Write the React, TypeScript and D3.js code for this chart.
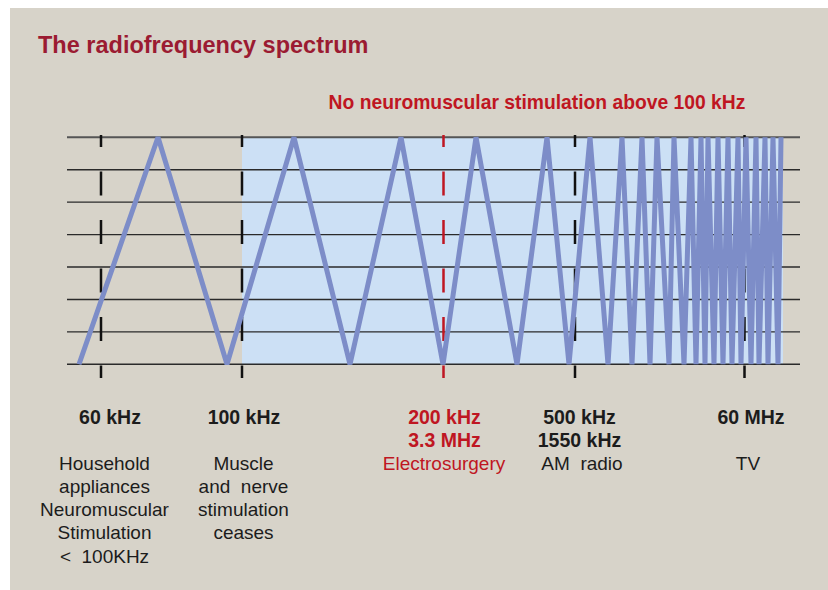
import * as d3 from "d3";

// positions along the spectrum strip (0 = left end of the grid lines)
const zigzagX = [
  12, 91, 160, 227, 283, 334, 376, 409, 450, 480, 502, 523, 541, 555, 565, 575,
  583, 590, 602, 607, 617, 624, 629, 634, 638, 641, 647, 651, 656, 661, 665,
  671, 674, 679, 684, 689, 692, 698, 701, 706, 711, 714,
];
const gridLevels = [0, 1, 2, 3, 4, 5, 6, 7];
const shadeFrom = 175;
const shadeTo = 716;

const tickPos = [34, 175, 508, 677.5];
const surgeryTick = 376.5;

const freqLabels = [
  { x: 43, lines: ["60 kHz"] },
  { x: 177, lines: ["100 kHz"] },
  { x: 377.5, lines: ["200 kHz", "3.3 MHz"], red: true },
  { x: 512.5, lines: ["500 kHz", "1550 kHz"] },
  { x: 684, lines: ["60 MHz"] },
];
const descLabels = [
  { x: 37.5, row: 0, lines: ["Household", "appliances", "Neuromuscular", "Stimulation", "<  100KHz"] },
  { x: 176.5, row: 0, lines: ["Muscle", "and  nerve", "stimulation", "ceases"] },
  { x: 377, row: 0, lines: ["Electrosurgery"], red: true },
  { x: 515, row: 0, lines: ["AM  radio"] },
  { x: 681, row: 0, lines: ["TV"] },
];

const W = 828;
const H = 590;

const x = d3.scaleLinear().domain([0, 733]).range([67, 800]);
const y = d3.scaleLinear().domain([0, 7]).range([364.3, 137.3]);

const DARK = "#1c1c1c";
const RED = "#bf1622";

export default function App() {
  const pts: [number, number][] = zigzagX.map((v, i) => [v, i % 2 === 0 ? 0 : 7]);
  const line = d3
    .line<[number, number]>()
    .x((d) => x(d[0]))
    .y((d) => y(d[1]));

  const font = "'Liberation Sans', Arial, Helvetica, sans-serif";
  const tickDash = { strokeDasharray: "24 24.5", strokeDashoffset: 12 };

  return (
    <svg
      width={W}
      height={H}
      style={{ position: "absolute", left: 0, top: 0, display: "block" }}
      fontFamily={font}
    >
      <rect x={0} y={0} width={W} height={H} fill="#ffffff" />
      <rect x={10} y={8} width={W - 10} height={H - 8} fill="#d7d3c9" />

      <text x={38} y={53} fontSize={23.5} fontWeight="bold" fill="#9b1b32">
        The radiofrequency spectrum
      </text>
      <text x={537} y={109} fontSize={19.3} fontWeight="bold" fill={RED} textAnchor="middle">
        No neuromuscular stimulation above 100 kHz
      </text>

      {/* shaded >100 kHz region */}
      <rect
        x={x(shadeFrom)}
        y={y(7)}
        width={x(shadeTo) - x(shadeFrom)}
        height={y(0) - y(7)}
        fill="#cce0f5"
      />

      {gridLevels.map((g) => (
        <line
          key={g}
          x1={x(0)}
          x2={x(733)}
          y1={y(g)}
          y2={y(g)}
          stroke={g === 7 ? "#555" : "#2a2a2a"}
          strokeWidth={g === 7 ? 2 : 1.4}
        />
      ))}

      {tickPos.map((t) => (
        <line
          key={t}
          x1={x(t)}
          x2={x(t)}
          y1={135}
          y2={378}
          stroke="#111"
          strokeWidth={2.5}
          {...tickDash}
        />
      ))}
      <line
        x1={x(surgeryTick)}
        x2={x(surgeryTick)}
        y1={135}
        y2={378}
        stroke={RED}
        strokeWidth={2.5}
        {...tickDash}
      />

      <path
        d={line(pts) ?? ""}
        fill="none"
        stroke="#7d8dc8"
        strokeWidth={5}
        strokeLinejoin="miter"
        strokeMiterlimit={2}
      />

      {freqLabels.map((f) =>
        f.lines.map((s, i) => (
          <text
            key={f.x + s}
            x={x(f.x)}
            y={423.5 + i * 23}
            fontSize={19.5}
            fontWeight="bold"
            textAnchor="middle"
            fill={f.red ? RED : DARK}
          >
            {s}
          </text>
        ))
      )}

      {descLabels.map((d) =>
        d.lines.map((s, i) => (
          <text
            key={d.x + s}
            x={x(d.x)}
            y={469.5 + i * 23.3}
            fontSize={19}
            textAnchor="middle"
            fill={d.red ? RED : DARK}
            style={{ whiteSpace: "pre" }}
          >
            {s}
          </text>
        ))
      )}
    </svg>
  );
}
